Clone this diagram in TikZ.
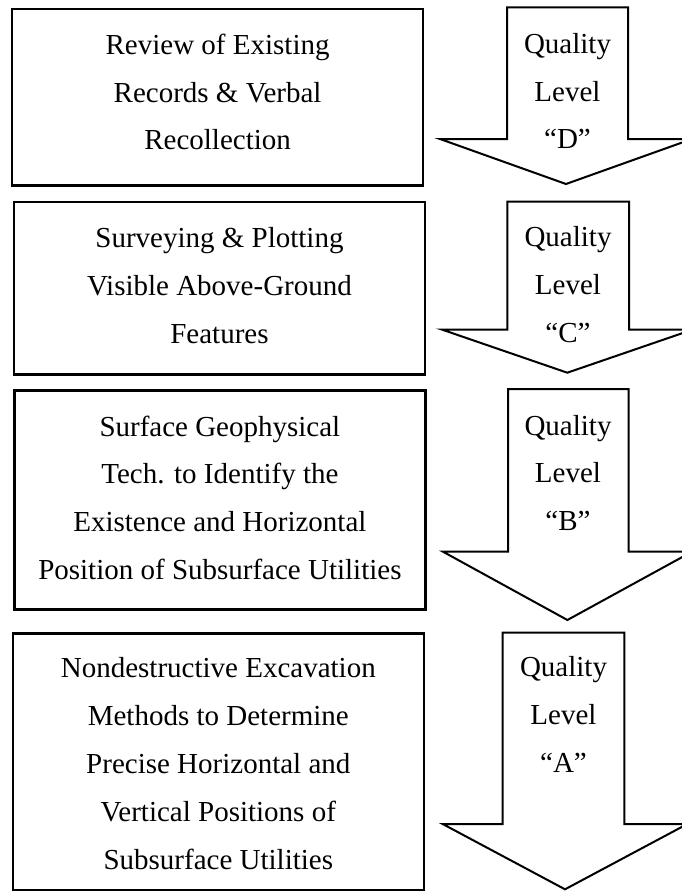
\documentclass[tikz,border=0pt]{standalone}
\usepackage{fontspec}
\setmainfont{Liberation Serif}
\begin{document}
\begin{tikzpicture}[x=1pt,y=-1pt,
  box/.style={draw, line width=2.2pt, inner sep=0pt, anchor=north west,
    font=\fontsize{29}{47.8}\selectfont},
  qarrow/.style={draw, line width=2pt, line join=miter, fill=white},
  qtext/.style={inner sep=0pt, anchor=base, font=\fontsize{29}{47.8}\selectfont}]
\useasboundingbox (0,0) rectangle (682,891);

% boxes
\node[box, minimum width=411pt, text height=45pt, text depth=131pt] (b1) at (11,8.3)
  {\begin{tabular}[t]{@{}c@{}}Review of Existing\\Records \& Verbal\\Recollection\end{tabular}};
\node[box, minimum width=411.3pt, text height=45.7pt, text depth=126.6pt] (b2) at (12.7,201)
  {\begin{tabular}[t]{@{}c@{}}Surveying \& Plotting\\Visible Above-Ground\\Features\end{tabular}};
\node[box, minimum width=411pt, text height=45.7pt, text depth=173.3pt] (b3) at (13.3,389.3)
  {\begin{tabular}[t]{@{}c@{}}Surface Geophysical\\Tech. to Identify the\\Existence and Horizontal\\Position of Subsurface Utilities\end{tabular}};
\node[box, minimum width=411pt, text height=44.4pt, text depth=212.6pt] (b4) at (11.7,632.3)
  {\begin{tabular}[t]{@{}c@{}}Nondestructive Excavation\\Methods to Determine\\Precise Horizontal and\\Vertical Positions of\\Subsurface Utilities\end{tabular}};

% arrows
\draw[qarrow] (507,7.5) -- (628,7.5) -- (628,139) -- (692,139) -- (566,184)
  -- (440,139) -- (507,139) -- cycle;
\draw[qarrow] (507.3,201.7) -- (629,201.7) -- (629,329.5) -- (693,329.5) -- (567.3,372.7)
  -- (441.7,329.5) -- (507.3,329.5) -- cycle;
\draw[qarrow] (508,389) -- (628.5,389) -- (628.5,551.7) -- (692,551.7) -- (567.4,620)
  -- (443,551.7) -- (508,551.7) -- cycle;
\draw[qarrow] (502.7,632.7) -- (624.3,632.7) -- (624.3,824) -- (687.3,824) -- (565,889.3)
  -- (442.7,824) -- (502.7,824) -- cycle;

% arrow labels
\node[qtext] (q1) at (567.5,53.3) {\begin{tabular}[t]{@{}c@{}}Quality\\Level\\“D”\end{tabular}};
\node[qtext] (q2) at (568,246.7) {\begin{tabular}[t]{@{}c@{}}Quality\\Level\\“C”\end{tabular}};
\node[qtext] (q3) at (568,435) {\begin{tabular}[t]{@{}c@{}}Quality\\Level\\“B”\end{tabular}};
\node[qtext] (q4) at (563.5,676.7) {\begin{tabular}[t]{@{}c@{}}Quality\\Level\\“A”\end{tabular}};
\end{tikzpicture}
\end{document}
